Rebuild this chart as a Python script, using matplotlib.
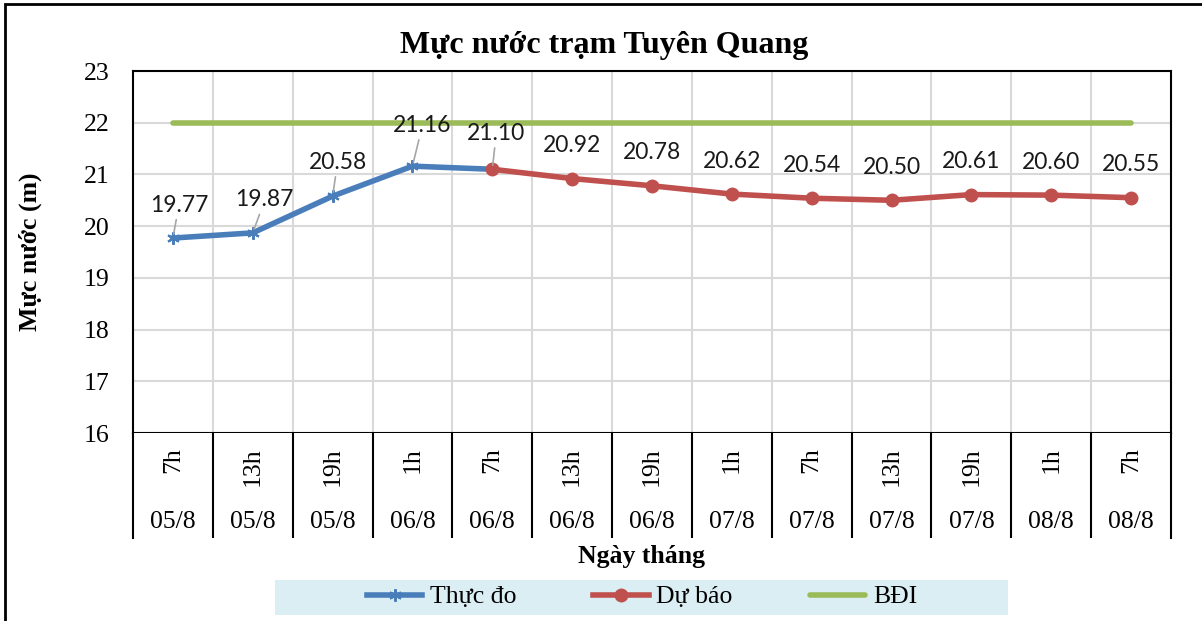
import matplotlib
matplotlib.use("Agg")
import matplotlib.pyplot as plt
from matplotlib.patches import Rectangle

# data
hours = ['7h', '13h', '19h', '1h', '7h', '13h', '19h', '1h', '7h', '13h', '19h', '1h', '7h']
dates = ['05/8', '05/8', '05/8', '06/8', '06/8', '06/8', '06/8',
         '07/8', '07/8', '07/8', '07/8', '08/8', '08/8']
observed = [19.77, 19.87, 20.58, 21.16, 21.10]
forecast = [21.10, 20.92, 20.78, 20.62, 20.54, 20.50, 20.61, 20.60, 20.55]
alarm1 = [22, 22, 22, 22, 22, 22, 22, 22, 22, 22, 22, 22, 22]

x_all = list(range(len(hours)))
x_obs = x_all[:len(observed)]
x_fc = x_all[len(observed) - 1:]

BLUE = '#4a7ebb'
RED = '#c0504d'
GREEN = '#9bbb59'
SERIF = 'Liberation Serif'

W, H = 1202, 621
fig = plt.figure(figsize=(W / 100, H / 100), dpi=100)


def box(l, t, r, b):
    return [l / W, 1 - b / H, (r - l) / W, (b - t) / H]


ax = fig.add_axes(box(133, 71, 1171, 433))
lab = fig.add_axes(box(133, 433, 1171, 538))

# plot area
ax.set_xlim(-0.5, len(hours) - 0.5)
ax.set_ylim(16, 23)
ax.set_yticks(range(16, 24))
ax.set_xticks([i + 0.5 for i in x_all[:-1]])
ax.grid(color='#d9d9d9', lw=1.5, zorder=0)
ax.tick_params(length=0, labelbottom=False, pad=17)
for t in ax.get_yticklabels():
    t.set_fontfamily(SERIF)
    t.set_fontsize(18.5)
for s in ax.spines.values():
    s.set_color('black')
    s.set_linewidth(1.5)

l_obs, = ax.plot(x_obs, observed, color=BLUE, lw=4, marker=(6, 2, 0),
                 ms=9, mew=1.5, zorder=3, label='Thực đo')
l_fc, = ax.plot(x_fc, forecast, color=RED, lw=4, marker='o', ms=9,
                zorder=4, label='Dự báo')
l_bd, = ax.plot(x_all, alarm1, color=GREEN, lw=4, solid_capstyle='round',
                zorder=2, label='BĐI')

# data labels (pixel offsets, first ones were moved so they get leader lines)
values = observed + forecast[1:]
offsets = [(6, 33), (12, 33), (5, 34), (10, 41), (4, 36)] + [(0, 33)] * 8
for i, (v, (dx, dy)) in enumerate(zip(values, offsets)):
    arrow = None
    if i < len(observed):
        arrow = dict(arrowstyle='-', color='#a6a6a6', lw=1.2, shrinkA=1, shrinkB=3)
    ax.annotate('%.2f' % v, (i, v), xytext=(dx, dy), textcoords='offset pixels',
                ha='center', va='center', fontsize=16.5, fontfamily='Lato',
                color='#1a1a1a', arrowprops=arrow, zorder=5)

# category label area
lab.set_xlim(-0.5, len(hours) - 0.5)
lab.set_ylim(0, 1)
lab.set_xticks([])
lab.set_yticks([])
lab.spines['top'].set_visible(False)
lab.spines['bottom'].set_visible(False)
for s in ('left', 'right'):
    lab.spines[s].set_color('black')
    lab.spines[s].set_linewidth(1.5)
lab.vlines([i + 0.5 for i in x_all[:-1]], 0, 1, color='black', lw=1.5)
for i in x_all:
    lab.text(i, 0.867, hours[i], rotation=90, ha='center', va='top',
             fontsize=18.5, fontfamily=SERIF)
    lab.text(i, 0.152, dates[i], ha='center', va='center',
             fontsize=18.5, fontfamily=SERIF)

# titles
fig.text(604 / W, 1 - 45 / H, 'Mực nước trạm Tuyên Quang', ha='center', va='center',
         fontsize=23, fontweight='bold', fontfamily=SERIF)
fig.text(30 / W, 1 - 252 / H, 'Mực nước (m)', rotation=90, ha='center', va='center',
         fontsize=18.5, fontweight='bold', fontfamily=SERIF)
fig.text(642 / W, 1 - 556 / H, 'Ngày tháng', ha='center', va='center',
         fontsize=18.5, fontweight='bold', fontfamily=SERIF)

# legend with light blue band behind it
fig.patches.append(Rectangle((275 / W, 1 - 615 / H), 733 / W, 35 / H,
                             transform=fig.transFigure, fc='#daeef3', ec='none', zorder=0))
fig.legend([l_obs, l_fc, l_bd], ['Thực đo', 'Dự báo', 'BĐI'], loc='center',
           bbox_to_anchor=(642 / W, 1 - 597 / H), ncol=3, frameon=False,
           prop={'family': SERIF, 'size': 18.5}, handlelength=2.15,
           handletextpad=0.3, columnspacing=3.0)

# outer chart border
fig.patches.append(Rectangle((5 / W, -0.1), 1.2, 1.1 - 4 / H, transform=fig.transFigure,
                             fill=False, ec='black', lw=2))

fig.savefig('out.png', dpi=100)
